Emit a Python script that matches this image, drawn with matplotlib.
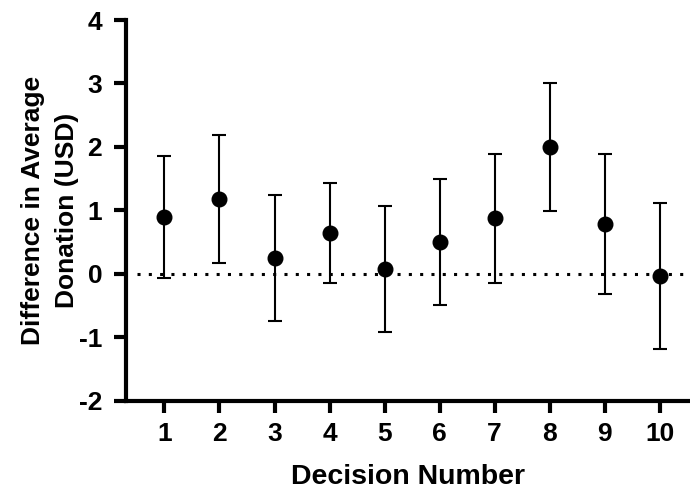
import matplotlib
matplotlib.use("Agg")
import matplotlib.pyplot as plt
import numpy as np

decisions = [1, 2, 3, 4, 5, 6, 7, 8, 9, 10]
means = [0.89, 1.18, 0.25, 0.64, 0.07, 0.50, 0.87, 2.00, 0.79, -0.04]
upper = [1.86, 2.18, 1.24, 1.43, 1.06, 1.50, 1.89, 3.01, 1.89, 1.12]
lower = [-0.07, 0.17, -0.74, -0.14, -0.92, -0.49, -0.15, 0.99, -0.32, -1.19]
yticks = [-2, -1, 0, 1, 2, 3, 4]

plt.rcParams['font.family'] = ['Liberation Sans', 'DejaVu Sans']
plt.rcParams['font.weight'] = 'bold'

fig = plt.figure(figsize=(6.9, 4.94), dpi=100)
ax = fig.add_axes([126.5/690, 1 - 400.5/494, 1 - 126.5/690, (400.5 - 20)/494])

m = np.array(means)
yerr = np.vstack([m - np.array(lower), np.array(upper) - m])

ax.hlines(0, 0.5, 10.6, colors='black', linestyles=(0, (1, 2.7)), linewidth=2.2)
ax.errorbar(decisions, means, yerr=yerr, fmt='o', color='black', ecolor='black',
            markersize=10.5, elinewidth=1.5, capsize=4.7, capthick=1.5, zorder=3)

ax.set_xlim(0.31, 10.55)
ax.set_ylim(-2, 4)
ax.set_xticks(decisions)
ax.set_yticks(yticks)
ax.set_yticklabels([str(v) for v in yticks])

for s in ['top', 'right']:
    ax.spines[s].set_visible(False)
for s in ['left', 'bottom']:
    ax.spines[s].set_linewidth(3)
ax.tick_params(axis='both', width=3, length=8.5, labelsize=19)
ax.tick_params(axis='x', pad=7)
ax.tick_params(axis='y', pad=9)

ax.set_xlabel('Decision Number', fontsize=20.5, fontweight='bold')
ax.set_ylabel('Difference in Average\nDonation (USD)', fontsize=19, fontweight='bold',
              linespacing=1.55)
ax.xaxis.set_label_coords(0.5, -0.168)
ax.yaxis.set_label_coords(-0.084, 0.5)

fig.savefig('out.png', dpi=100)
